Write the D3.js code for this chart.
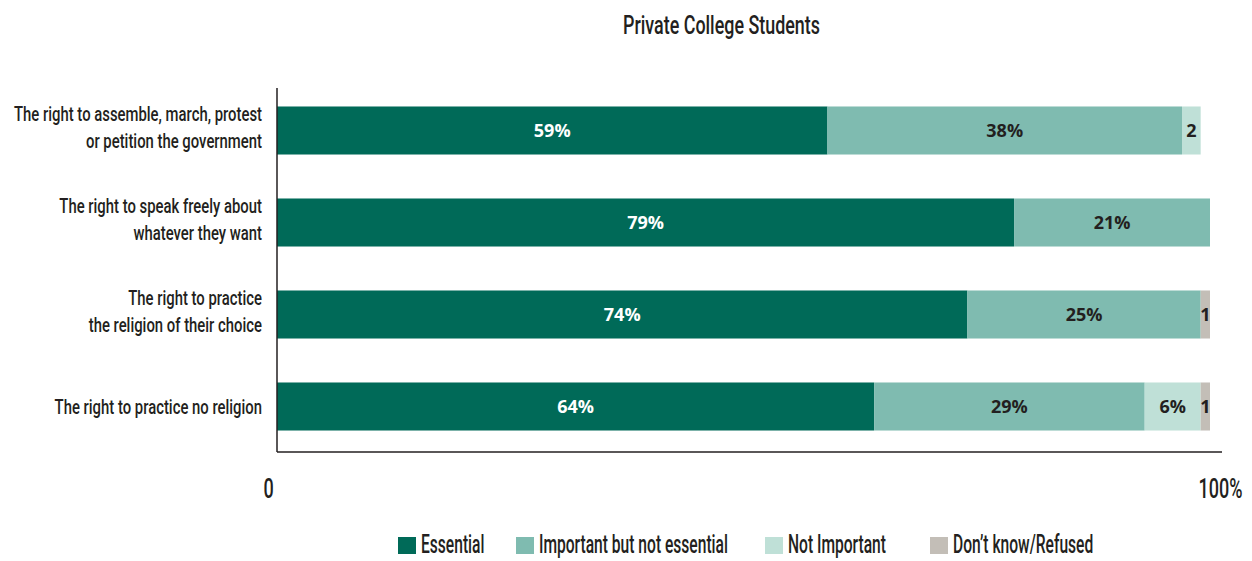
<!DOCTYPE html>
<html>
<head>
<meta charset="utf-8">
<script src="https://cdn.jsdelivr.net/npm/d3@7"></script>
<style>
  html, body { margin: 0; padding: 0; background: #ffffff; }
  svg { display: block; }
  .cond { font-family: Roboto, "Liberation Sans", sans-serif; font-weight: 500; fill: #231f20; }
  .val { font-family: "Open Sans", "DejaVu Sans", sans-serif; font-weight: 700; }
</style>
</head>
<body>
<svg id="chart" width="1252" height="561"></svg>
<script>
// Survey responses, private college students (percent)
const categories = [
  ["The right to assemble, march, protest", "or petition the government"],
  ["The right to speak freely about", "whatever they want"],
  ["The right to practice", "the religion of their choice"],
  ["The right to practice no religion"]
];
const seriesNames = ["Essential", "Important but not essential", "Not Important", "Don\u2019t know/Refused"];
const essential = [59, 79, 74, 64];
const important = [38, 21, 25, 29];
const notImportant = [2, 0, 0, 6];
const dontKnow = [0, 0, 1, 1];
const valueLabels = [
  ["59%", "38%", "2", ""],
  ["79%", "21%", "", ""],
  ["74%", "25%", "", "1"],
  ["64%", "29%", "6%", "1"]
];
const tickValues = [0, 100];
const tickLabels = ["0", "100%"];
const colors = ["#006a58", "#7fbbb0", "#bfe0d7", "#c3beb7"];
const labelColors = ["#ffffff", "#231f20", "#231f20", "#231f20"];

const svg = d3.select("#chart");

const x = d3.scaleLinear().domain([0, 100]).range([277, 1210]);
const y = d3.scaleBand().domain(d3.range(categories.length))
  .range([84.5, 452.5]).paddingInner(0.478).paddingOuter(0.239);

// Horizontal squeeze that gives the condensed typeface look
function squeezeFor(str, size, width) {
  const t = svg.append("text").attr("class", "cond").style("font-size", size + "px").text(str);
  const w = t.node().getComputedTextLength();
  t.remove();
  return width / w;
}
function condText(parent, px, py, anchor, size, k, str) {
  return parent.append("text").attr("class", "cond")
    .attr("text-anchor", anchor).style("font-size", size + "px")
    .attr("transform", `translate(${px},${py}) scale(${k},1)`)
    .text(str);
}

const kTitle = squeezeFor("Private College Students", 25, 197);
const kCat = squeezeFor(categories[0][0], 21, 248);
const kLeg = squeezeFor(seriesNames[1], 25, 189);
const kTick = squeezeFor(tickLabels[1], 28, 44);

// Title
condText(svg, 721.5, 34, "middle", 25, kTitle, "Private College Students");

// Stacked segments
const rows = categories.map((c, i) => [essential[i], important[i], notImportant[i], dontKnow[i]]);
const stacked = rows.map(vals => {
  let acc = 0;
  return vals.map(v => { const s = acc; acc += v; return [s, acc]; });
});

const rowG = svg.selectAll("g.row").data(stacked).join("g").attr("class", "row");
rowG.each(function (segs, i) {
  const g = d3.select(this);
  segs.forEach((s, k) => {
    if (s[1] - s[0] <= 0) return;
    g.append("rect")
      .attr("x", x(s[0])).attr("y", y(i))
      .attr("width", x(s[1]) - x(s[0])).attr("height", y.bandwidth())
      .attr("fill", colors[k]);
  });
  segs.forEach((s, k) => {
    const lbl = valueLabels[i][k];
    if (!lbl) return;
    g.append("text").attr("class", "val")
      .attr("x", (x(s[0]) + x(s[1])) / 2)
      .attr("y", y(i) + y.bandwidth() / 2)
      .attr("dy", "0.36em")
      .attr("text-anchor", "middle")
      .style("font-size", "18px")
      .attr("fill", labelColors[k])
      .text(lbl);
  });
});

// Category labels, right-aligned beside the axis
categories.forEach((lines, i) => {
  const cy = y(i) + y.bandwidth() / 2;
  const n = lines.length;
  lines.forEach((ln, j) => {
    const base = n === 1 ? cy + 7.5 : cy - 10 + j * 27.5;
    condText(svg, 262, base, "end", 21, kCat, ln);
  });
});

// Axis frame
svg.append("line").attr("x1", x(0)).attr("x2", x(0)).attr("y1", 88).attr("y2", 452)
  .attr("stroke", "#231f20").attr("stroke-width", 1.5);
svg.append("line").attr("x1", x(0)).attr("x2", 1222).attr("y1", 452).attr("y2", 452)
  .attr("stroke", "#231f20").attr("stroke-width", 1.5);

// Bottom tick labels
const xAxis = d3.axisBottom(x).tickValues(tickValues).tickSize(0)
  .tickFormat((d, i) => tickLabels[i]);
const axG = svg.append("g").attr("transform", "translate(0,498)").call(xAxis);
axG.select(".domain").remove();
axG.selectAll(".tick text")
  .attr("class", "cond")
  .attr("fill", "#231f20")
  .attr("y", 0).attr("dy", 0)
  .style("font-size", "28px")
  .attr("transform", (d, i) => `translate(${i === 0 ? -9 : 10},0) scale(${kTick},1)`);

// Legend
const legendX = [398, 516, 765, 930];
const lg = svg.selectAll("g.leg").data(seriesNames).join("g").attr("class", "leg")
  .attr("transform", (d, i) => `translate(${legendX[i]},537)`);
lg.append("rect").attr("width", 18).attr("height", 17).attr("fill", (d, i) => colors[i]);
lg.each(function (d) {
  condText(d3.select(this), 23, 16, "start", 25, kLeg, d);
});
</script>
</body>
</html>
